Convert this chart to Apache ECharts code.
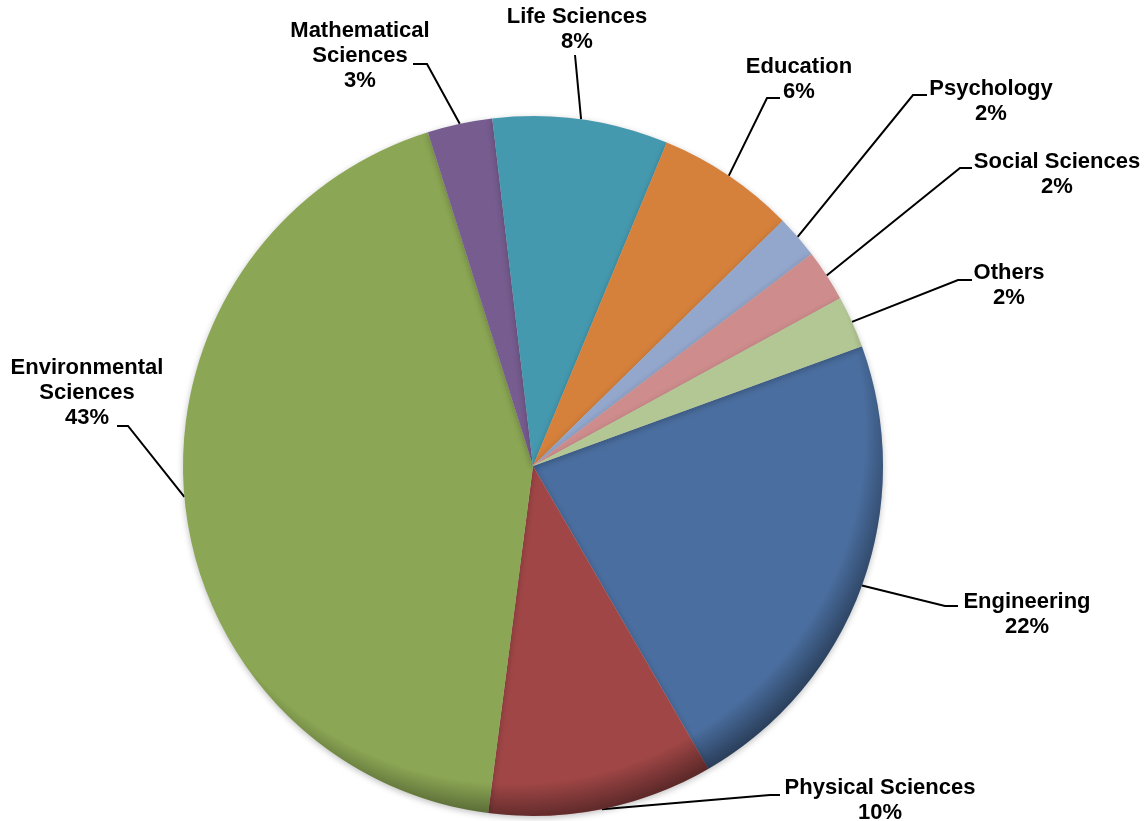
<!DOCTYPE html>
<html>
<head>
<meta charset="utf-8">
<script src="https://cdn.jsdelivr.net/npm/echarts@6/dist/echarts.min.js"></script>
<style>
html,body{margin:0;padding:0;background:#fff;}
#chart{width:1145px;height:821px;}
</style>
</head>
<body>
<div id="chart"></div>
<script>
// ---- data ----
const categories = ['Engineering', 'Physical Sciences', 'Environmental\nSciences', 'Mathematical\nSciences',
  'Life Sciences', 'Education', 'Psychology', 'Social Sciences', 'Others'];
const shares = [22.2, 10.4, 43.1, 3.0, 8.1, 6.4, 2.0, 2.4, 2.4];

// ---- style ----
const colors = ['#4A6E9F', '#A04646', '#8BA654', '#765C8F', '#4599AF', '#D5813C', '#93A6CB', '#CE8D8C', '#B2C793'];
// label block centre [x, y]
const labelCentres = [[1027, 614], [880, 800], [87, 393], [360, 56], [577, 29], [799, 79], [991, 101], [1057, 174], [1009, 285]];
// leader elbow and end [ex, ey, fx, fy]
const leaderEnds = [
  [945, 606, 958, 606],
  [770, 795, 780, 795],
  [128, 426, 117, 426],
  [427, 64, 413, 64],
  [575, 55, 575, 55],
  [767, 98, 780, 98],
  [913, 95, 927, 95],
  [960, 168, 972, 168],
  [958, 280, 972, 280]
];

const chart = echarts.init(document.getElementById('chart'));
const pieData = categories.map((c, i) => ({ name: c, value: shares[i], itemStyle: { color: colors[i] } }));

chart.setOption({
  animation: false,
  series: [
    {
      type: 'pie',
      center: [533, 466],
      radius: 350,
      startAngle: 20,
      clockwise: true,
      avoidLabelOverlap: false,
      data: pieData,
      itemStyle: { borderWidth: 0, shadowBlur: 6, shadowColor: 'rgba(0,0,0,0.25)', shadowOffsetY: 2 },
      label: {
        show: true,
        position: 'outside',
        formatter: p => p.name + '\n' + Math.round(p.percent) + '%',
        fontFamily: 'Liberation Sans, Arial, sans-serif',
        fontWeight: 'bold',
        fontSize: 22,
        lineHeight: 25,
        color: '#000'
      },
      labelLine: { show: true, lineStyle: { color: '#000', width: 2 } },
      labelLayout: function (params) {
        const i = params.dataIndex;
        const c = labelCentres[i];
        const e = leaderEnds[i];
        const start = (params.labelLinePoints && params.labelLinePoints[0]) || [e[0], e[1]];
        return {
          x: c[0], y: c[1], align: 'center', verticalAlign: 'middle',
          labelLinePoints: [[start[0], start[1]], [e[0], e[1]], [e[2], e[3]]]
        };
      },
      emphasis: { disabled: true }
    },
    {
      type: 'pie',
      center: [533, 466],
      radius: 350,
      silent: true,
      z: 3,
      label: { show: false },
      labelLine: { show: false },
      data: [{ value: 1, name: '' }],
      itemStyle: {
        borderWidth: 0,
        color: {
          type: 'radial', x: 0.47, y: 0.45, r: 0.56,
          colorStops: [
            { offset: 0, color: 'rgba(0,0,0,0)' },
            { offset: 0.9, color: 'rgba(0,0,0,0)' },
            { offset: 1, color: 'rgba(0,0,0,0.45)' }
          ]
        }
      },
      emphasis: { disabled: true }
    }
  ]
});
</script>
</body>
</html>
